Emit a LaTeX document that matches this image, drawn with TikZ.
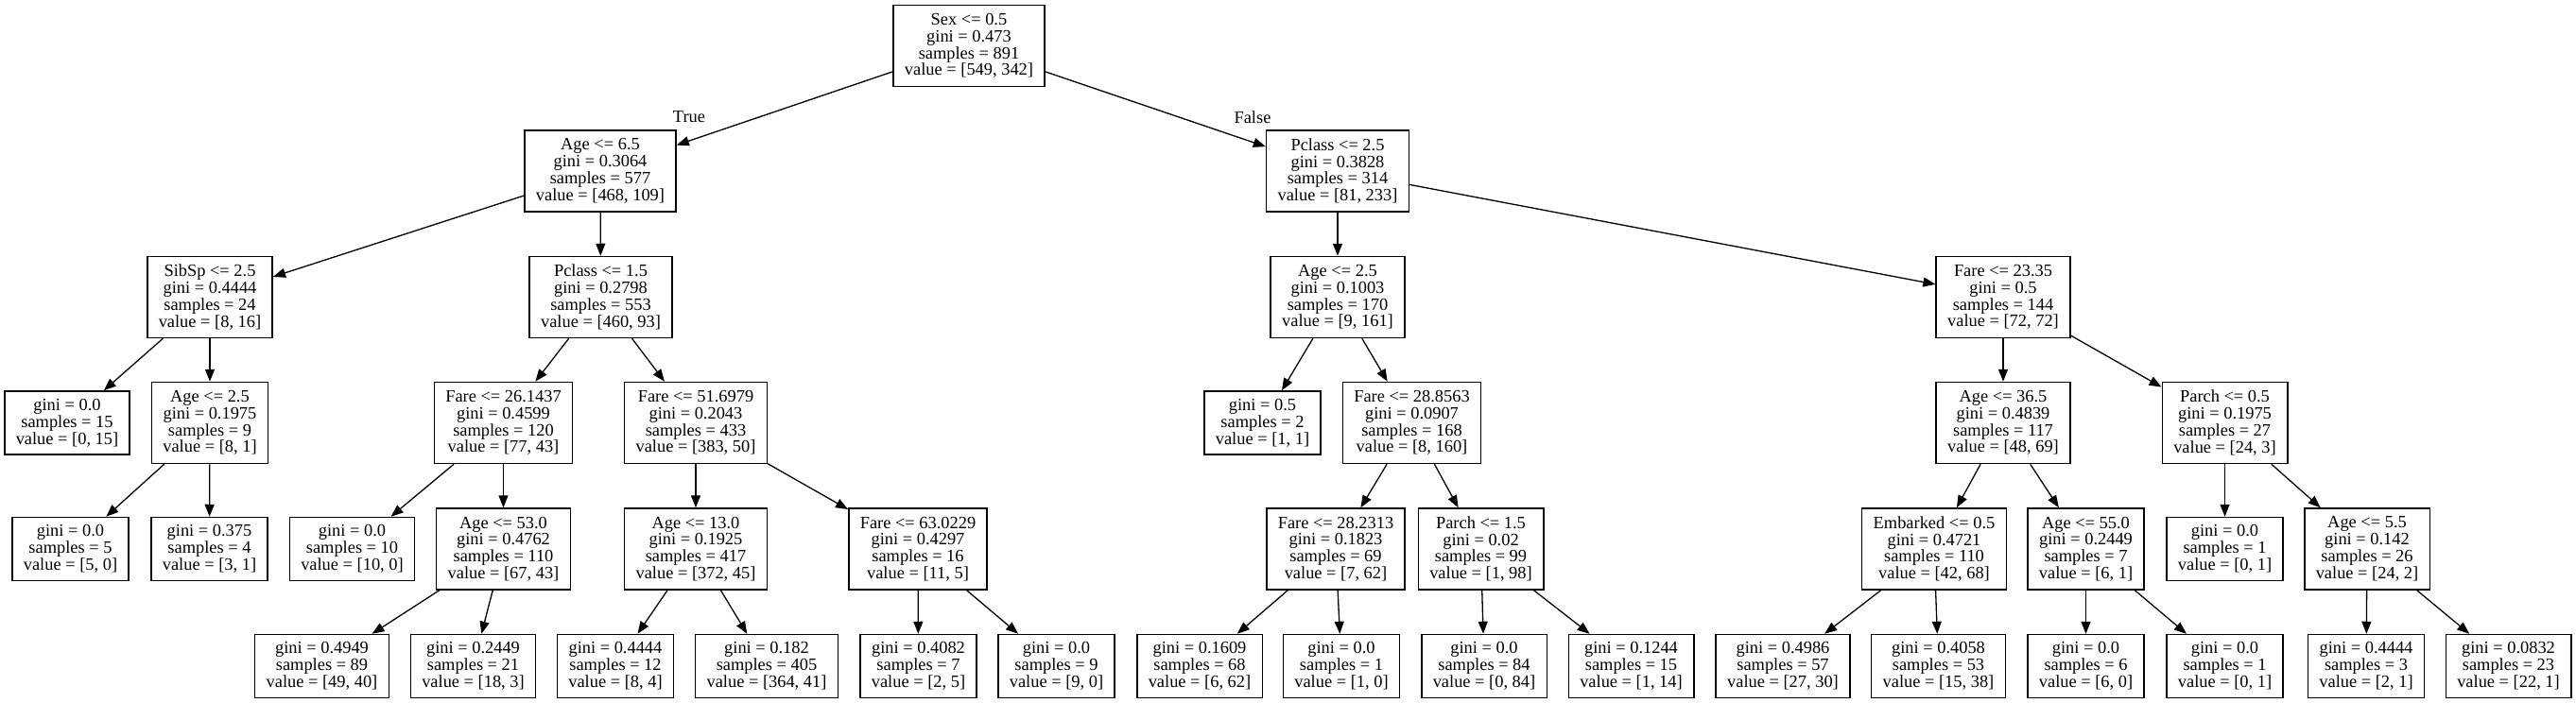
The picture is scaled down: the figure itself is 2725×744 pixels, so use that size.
\documentclass[tikz,border=0pt]{standalone}
\usepackage{fontspec}
\setmainfont{Liberation Serif}
\usetikzlibrary{arrows.meta}
\tikzset{
  splitbox/.style={
    rectangle, draw=black, line width=0.75pt,
    align=center, inner xsep=6pt, inner ysep=3pt,
    minimum height=43pt,
    font=\fontsize{9.2}{8.9}\selectfont
  },
  leafbox/.style={splitbox, minimum height=33.5pt},
  treearrow/.style={-{Triangle[length=6.5pt, width=5pt]}, line width=0.65pt},
  edgelabel/.style={font=\fontsize{9.2}{8.9}\selectfont, inner sep=0pt},
}

\begin{document}
\begin{tikzpicture}[x=0.5pt, y=-0.5pt]
  \useasboundingbox (0,0) rectangle (2725,744);

  % root and first split
  \node[splitbox] (n0)  at (1025,48.5)   {Sex <= 0.5\\gini = 0.473\\samples = 891\\value = [549, 342]};
  \node[splitbox] (n1)  at (635,181)     {Age <= 6.5\\gini = 0.3064\\samples = 577\\value = [468, 109]};
  \node[splitbox] (n20) at (1415,181)    {Pclass <= 2.5\\gini = 0.3828\\samples = 314\\value = [81, 233]};

  % left subtree
  \node[splitbox] (n2)  at (222,314.5)   {SibSp <= 2.5\\gini = 0.4444\\samples = 24\\value = [8, 16]};
  \node[leafbox]  (n3)  at (71,447.5)    {gini = 0.0\\samples = 15\\value = [0, 15]};
  \node[splitbox] (n4)  at (222,447.5)   {Age <= 2.5\\gini = 0.1975\\samples = 9\\value = [8, 1]};
  \node[leafbox]  (n5)  at (74.5,581)    {gini = 0.0\\samples = 5\\value = [5, 0]};
  \node[leafbox]  (n6)  at (221.5,581)   {gini = 0.375\\samples = 4\\value = [3, 1]};
  \node[splitbox] (n7)  at (635.5,314.5) {Pclass <= 1.5\\gini = 0.2798\\samples = 553\\value = [460, 93]};
  \node[splitbox] (n8)  at (532.5,447.5) {Fare <= 26.1437\\gini = 0.4599\\samples = 120\\value = [77, 43]};
  \node[leafbox]  (n9)  at (372.5,581)   {gini = 0.0\\samples = 10\\value = [10, 0]};
  \node[splitbox] (n10) at (532.5,581)   {Age <= 53.0\\gini = 0.4762\\samples = 110\\value = [67, 43]};
  \node[leafbox]  (n11) at (340.5,705)   {gini = 0.4949\\samples = 89\\value = [49, 40]};
  \node[leafbox]  (n12) at (500.5,705)   {gini = 0.2449\\samples = 21\\value = [18, 3]};
  \node[splitbox] (n13) at (736,447.5)   {Fare <= 51.6979\\gini = 0.2043\\samples = 433\\value = [383, 50]};
  \node[splitbox] (n14) at (736,581)     {Age <= 13.0\\gini = 0.1925\\samples = 417\\value = [372, 45]};
  \node[leafbox]  (n15) at (651,705)     {gini = 0.4444\\samples = 12\\value = [8, 4]};
  \node[leafbox]  (n16) at (811,705)     {gini = 0.182\\samples = 405\\value = [364, 41]};
  \node[splitbox] (n17) at (971,581)     {Fare <= 63.0229\\gini = 0.4297\\samples = 16\\value = [11, 5]};
  \node[leafbox]  (n18) at (971.5,705)   {gini = 0.4082\\samples = 7\\value = [2, 5]};
  \node[leafbox]  (n19) at (1117.5,705)  {gini = 0.0\\samples = 9\\value = [9, 0]};

  % right subtree
  \node[splitbox] (n21) at (1415,314.5)  {Age <= 2.5\\gini = 0.1003\\samples = 170\\value = [9, 161]};
  \node[leafbox]  (n22) at (1335.5,447.5){gini = 0.5\\samples = 2\\value = [1, 1]};
  \node[splitbox] (n23) at (1493.5,447.5){Fare <= 28.8563\\gini = 0.0907\\samples = 168\\value = [8, 160]};
  \node[splitbox] (n24) at (1413,581)    {Fare <= 28.2313\\gini = 0.1823\\samples = 69\\value = [7, 62]};
  \node[leafbox]  (n25) at (1269,705)    {gini = 0.1609\\samples = 68\\value = [6, 62]};
  \node[leafbox]  (n26) at (1419,705)    {gini = 0.0\\samples = 1\\value = [1, 0]};
  \node[splitbox] (n27) at (1566.5,581)  {Parch <= 1.5\\gini = 0.02\\samples = 99\\value = [1, 98]};
  \node[leafbox]  (n28) at (1570,705)    {gini = 0.0\\samples = 84\\value = [0, 84]};
  \node[leafbox]  (n29) at (1725.5,705)  {gini = 0.1244\\samples = 15\\value = [1, 14]};
  \node[splitbox] (n30) at (2119,314.5)  {Fare <= 23.35\\gini = 0.5\\samples = 144\\value = [72, 72]};
  \node[splitbox] (n31) at (2119,447.5)  {Age <= 36.5\\gini = 0.4839\\samples = 117\\value = [48, 69]};
  \node[splitbox] (n32) at (2046,581)    {Embarked <= 0.5\\gini = 0.4721\\samples = 110\\value = [42, 68]};
  \node[leafbox]  (n33) at (1886,705)    {gini = 0.4986\\samples = 57\\value = [27, 30]};
  \node[leafbox]  (n34) at (2050.5,705)  {gini = 0.4058\\samples = 53\\value = [15, 38]};
  \node[splitbox] (n35) at (2206.5,581)  {Age <= 55.0\\gini = 0.2449\\samples = 7\\value = [6, 1]};
  \node[leafbox]  (n36) at (2206.5,705)  {gini = 0.0\\samples = 6\\value = [6, 0]};
  \node[leafbox]  (n37) at (2353.5,705)  {gini = 0.0\\samples = 1\\value = [0, 1]};
  \node[splitbox] (n38) at (2353.5,447.5){Parch <= 0.5\\gini = 0.1975\\samples = 27\\value = [24, 3]};
  \node[leafbox]  (n39) at (2353.5,581)  {gini = 0.0\\samples = 1\\value = [0, 1]};
  \node[splitbox] (n40) at (2504,581)    {Age <= 5.5\\gini = 0.142\\samples = 26\\value = [24, 2]};
  \node[leafbox]  (n41) at (2503,705)    {gini = 0.4444\\samples = 3\\value = [2, 1]};
  \node[leafbox]  (n42) at (2653.5,705)  {gini = 0.0832\\samples = 23\\value = [22, 1]};

  % edges
  \draw[treearrow] (n0) -- (n1);   \draw[treearrow] (n0) -- (n20);
  \node[edgelabel] (truelbl)  at (729,124)  {True};
  \node[edgelabel] (falselbl) at (1325,124) {False};
  \draw[treearrow] (n1) -- (n2);   \draw[treearrow] (n1) -- (n7);
  \draw[treearrow] (n2) -- (n3);   \draw[treearrow] (n2) -- (n4);
  \draw[treearrow] (n4) -- (n5);   \draw[treearrow] (n4) -- (n6);
  \draw[treearrow] (n7) -- (n8);   \draw[treearrow] (n7) -- (n13);
  \draw[treearrow] (n8) -- (n9);   \draw[treearrow] (n8) -- (n10);
  \draw[treearrow] (n10) -- (n11); \draw[treearrow] (n10) -- (n12);
  \draw[treearrow] (n13) -- (n14); \draw[treearrow] (n13) -- (n17);
  \draw[treearrow] (n14) -- (n15); \draw[treearrow] (n14) -- (n16);
  \draw[treearrow] (n17) -- (n18); \draw[treearrow] (n17) -- (n19);
  \draw[treearrow] (n20) -- (n21); \draw[treearrow] (n20) -- (n30);
  \draw[treearrow] (n21) -- (n22); \draw[treearrow] (n21) -- (n23);
  \draw[treearrow] (n23) -- (n24); \draw[treearrow] (n23) -- (n27);
  \draw[treearrow] (n24) -- (n25); \draw[treearrow] (n24) -- (n26);
  \draw[treearrow] (n27) -- (n28); \draw[treearrow] (n27) -- (n29);
  \draw[treearrow] (n30) -- (n31); \draw[treearrow] (n30) -- (n38);
  \draw[treearrow] (n31) -- (n32); \draw[treearrow] (n31) -- (n35);
  \draw[treearrow] (n32) -- (n33); \draw[treearrow] (n32) -- (n34);
  \draw[treearrow] (n35) -- (n36); \draw[treearrow] (n35) -- (n37);
  \draw[treearrow] (n38) -- (n39); \draw[treearrow] (n38) -- (n40);
  \draw[treearrow] (n40) -- (n41); \draw[treearrow] (n40) -- (n42);
\end{tikzpicture}
\end{document}
